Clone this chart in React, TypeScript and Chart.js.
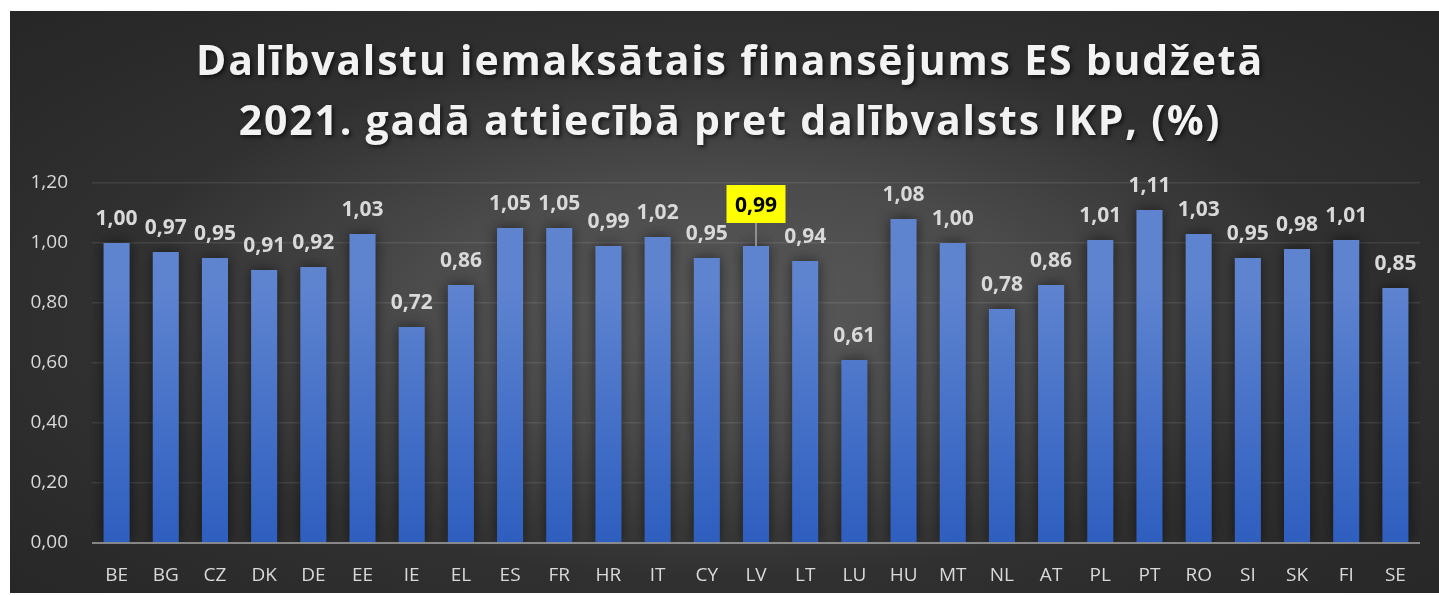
import React, { useEffect, useRef } from "react";
import { Chart, registerables } from "chart.js";

Chart.register(...registerables);

const categories = ["BE", "BG", "CZ", "DK", "DE", "EE", "IE", "EL", "ES", "FR", "HR", "IT", "CY", "LV", "LT", "LU", "HU", "MT", "NL", "AT", "PL", "PT", "RO", "SI", "SK", "FI", "SE"];
const values = [1.0, 0.97, 0.95, 0.91, 0.92, 1.03, 0.72, 0.86, 1.05, 1.05, 0.99, 1.02, 0.95, 0.99, 0.94, 0.61, 1.08, 1.0, 0.78, 0.86, 1.01, 1.11, 1.03, 0.95, 0.98, 1.01, 0.85];
const highlightCategory = "LV";
const titleLines = ["Dalībvalstu iemaksātais finansējums ES budžetā", "2021. gadā attiecībā pret dalībvalsts IKP, (%)"];
const yMin = 0;
const yMax = 1.2;
const yStep = 0.2;

const fmt = (v: number) => v.toFixed(2).replace(".", ",");
const FONT = "'Open Sans', 'Noto Sans', sans-serif";

const decorPlugin = {
  id: "decor",
  beforeDraw(chart: any) {
    const ctx = chart.ctx as CanvasRenderingContext2D;
    ctx.save();
    ctx.font = `bold 41px ${FONT}`;
    ctx.textAlign = "center";
    ctx.textBaseline = "alphabetic";
    (ctx as any).letterSpacing = "1.8px";
    ctx.shadowColor = "rgba(0,0,0,0.65)";
    ctx.shadowOffsetX = 2;
    ctx.shadowOffsetY = 2;
    ctx.shadowBlur = 4;
    ctx.fillStyle = "#f2f2f2";
    const cx = 720;
    ctx.fillText(titleLines[0], cx, 64);
    ctx.fillText(titleLines[1], cx, 124);
    ctx.restore();
  },
  beforeDatasetsDraw(chart: any) {
    const ctx = chart.ctx as CanvasRenderingContext2D;
    const meta = chart.getDatasetMeta(0);
    meta.data.forEach((bar: any, i: number) => {
      if (categories[i] === highlightCategory) {
        bar.options.backgroundColor = "#ffff00";
        return;
      }
      const g = ctx.createLinearGradient(0, bar.y, 0, bar.base);
      g.addColorStop(0, "#5e84d0");
      g.addColorStop(1, "#2e5ebf");
      bar.options.backgroundColor = g;
    });
    ctx.save();
    ctx.shadowColor = "rgba(0,0,0,0.55)";
    ctx.shadowBlur = 14;
  },
  afterDatasetsDraw(chart: any) {
    const ctx = chart.ctx as CanvasRenderingContext2D;
    ctx.restore();
    const area = chart.chartArea;
    const yScale = chart.scales.y;
    ctx.save();
    ctx.strokeStyle = "rgba(210,210,210,0.55)";
    ctx.lineWidth = 2;
    const y0 = yScale.getPixelForValue(0);
    ctx.beginPath();
    ctx.moveTo(area.left, y0);
    ctx.lineTo(area.right, y0);
    ctx.stroke();
    ctx.restore();

    const meta = chart.getDatasetMeta(0);
    meta.data.forEach((bar: any, i: number) => {
      const text = fmt(values[i]);
      ctx.save();
      ctx.font = `bold 21px ${FONT}`;
      ctx.textAlign = "center";
      ctx.textBaseline = "alphabetic";
      if (categories[i] === highlightCategory) {
        const bw = 59;
        const bh = 38;
        const boxBottom = bar.y - 23;
        ctx.strokeStyle = "#a6a6a6";
        ctx.lineWidth = 1.5;
        ctx.beginPath();
        ctx.moveTo(bar.x, boxBottom);
        ctx.lineTo(bar.x, bar.y);
        ctx.stroke();
        ctx.fillStyle = "#ffff00";
        ctx.fillRect(bar.x - bw / 2, boxBottom - bh, bw, bh);
        ctx.fillStyle = "#000000";
        ctx.fillText(text, bar.x, boxBottom - 11);
      } else {
        ctx.fillStyle = "#d9d9d9";
        ctx.fillText(text, bar.x, bar.y - 18);
      }
      ctx.restore();
    });
  },
};

export default function App() {
  const canvasRef = useRef<HTMLCanvasElement | null>(null);

  useEffect(() => {
    if (!canvasRef.current) return;
    const chart = new Chart(canvasRef.current, {
      type: "bar",
      data: {
        labels: categories,
        datasets: [
          {
            data: values,
            backgroundColor: "#4a74c8",
            borderWidth: 0,
            categoryPercentage: 1,
            barPercentage: 0.53,
          },
        ],
      },
      options: {
        animation: false,
        responsive: false,
        maintainAspectRatio: false,
        layout: { padding: { top: 172, right: 19, bottom: 0, left: 0 } },
        plugins: {
          legend: { display: false },
          title: { display: false },
          tooltip: { enabled: false },
        },
        scales: {
          x: {
            grid: { display: false, drawTicks: false },
            border: { display: false },
            ticks: { color: "#d9d9d9", font: { family: FONT, size: 19 }, padding: 21, maxRotation: 0, autoSkip: false },
            afterFit: (s: any) => {
              s.height = 50;
            },
          },
          y: {
            min: yMin,
            max: yMax,
            grid: {
              drawTicks: false,
              lineWidth: 1.5,
              color: (c: any) => (c.tick && c.tick.value === 0 ? "rgba(0,0,0,0)" : "rgba(255,255,255,0.09)"),
            },
            border: { display: false },
            ticks: {
              stepSize: yStep,
              color: "#d9d9d9",
              font: { family: FONT, size: 19 },
              padding: 24,
              callback: (v: any) => fmt(Number(v)),
            },
            afterFit: (s: any) => {
              s.width = 82;
            },
          },
        },
      },
      plugins: [decorPlugin],
    });
    return () => chart.destroy();
  }, []);

  return (
    <div
      style={{
        position: "absolute",
        left: 10,
        top: 11,
        width: 1429,
        height: 582,
        background: "radial-gradient(ellipse at 50% 52%, #5a5a5a 0%, #4c4c4c 30%, #303030 62%, #262626 100%)",
      }}
    >
      <canvas ref={canvasRef} width={1429} height={582} style={{ display: "block" }} />
    </div>
  );
}
